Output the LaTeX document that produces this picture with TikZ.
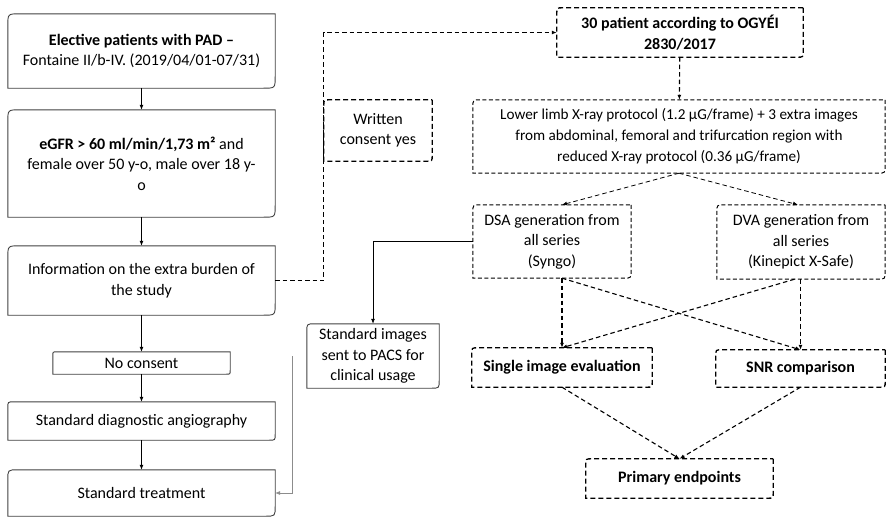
\documentclass[tikz,border=0pt]{standalone}
\usepackage{fontspec}
\setmainfont{Carlito}
\usetikzlibrary{arrows.meta}
\definecolor{boxline}{RGB}{64,64,64}

% outline with rounded top left and bottom right corners
\newcommand\cutbox[3][]{%
  \draw[#1] (#2.north east) -- ([yshift=#3pt]#2.south east)
    .. controls (#2.south east) .. ([xshift=-#3pt]#2.south east)
    -- (#2.south west) -- ([yshift=-#3pt]#2.north west)
    .. controls (#2.north west) .. ([xshift=#3pt]#2.north west) -- cycle;}

\tikzset{
  txt/.style={inner sep=0pt, align=center, font=\fontsize{16}{20.5}\selectfont},
  plainbox/.style={draw=boxline, line width=0.9pt},
  thinbox/.style={draw=black, line width=1pt, dash pattern=on 4pt off 2.5pt},
  thickbox/.style={draw=black, line width=1.3pt, dash pattern=on 5pt off 3pt},
  link/.style={-{Latex[length=5pt,width=4pt]}, line width=0.8pt},
  dlink/.style={link, line width=1.1pt, dash pattern=on 4.5pt off 3pt},
}

\begin{document}
\begin{tikzpicture}[x=1pt,y=-1pt] %% pixel coordinates, y downwards
  \useasboundingbox (0,0) rectangle (887,517);

  % left column
  \node[txt, minimum width=267pt, minimum height=74pt] (elective) at (141.5,51)
    {\textbf{Elective patients with PAD –}\\Fontaine II/b-IV. (2019/04/01-07/31)};
  \node[txt, minimum width=267pt, minimum height=107pt] (egfr) at (141.5,163.5)
    {\textbf{eGFR > 60 ml/min/1,73 m²} and\\female over 50 y-o, male over 18 y-\\o};
  \node[txt, minimum width=267pt, minimum height=69pt] (info) at (141.5,280.5)
    {Information on the extra burden of\\the study};
  \node[txt, minimum width=177pt, minimum height=22pt] (nocons) at (141.5,363)
    {No consent};
  \node[txt, minimum width=267pt, minimum height=38pt] (diag) at (141.5,421)
    {Standard diagnostic angiography};
  \node[txt, minimum width=267pt, minimum height=46pt] (treat) at (141.5,493)
    {Standard treatment};

  % right part
  \node[txt, minimum width=108pt, minimum height=61pt] (written) at (378,130.5)
    {Written\\consent yes};
  \node[txt, minimum width=246pt, minimum height=49pt] (thirty) at (680,32.5)
    {\textbf{30 patient according to OGYÉI}\\\textbf{2830/2017}};
  \node[txt, font=\fontsize{15.2}{21}\selectfont, minimum width=412pt, minimum height=73pt] (lower) at (679,136.5)
    {Lower limb X-ray protocol (1.2 µG/frame) + 3 extra images\\
     from abdominal, femoral and trifurcation region with\\
     reduced X-ray protocol (0.36 µG/frame)};
  \node[txt, minimum width=158pt, minimum height=73pt] (dsa) at (552,241.5)
    {DSA generation from\\all series\\(Syngo)};
  \node[txt, minimum width=168pt, minimum height=74pt] (dva) at (801,242)
    {DVA generation from\\all series\\(Kinepict X-Safe)};
  \node[txt, minimum width=132pt, minimum height=64pt] (pacs) at (373,356)
    {Standard images\\sent to PACS for\\clinical usage};
  \node[txt, minimum width=180pt, minimum height=39pt] (single) at (562,367.5)
    {\textbf{Single image evaluation}};
  \node[txt, minimum width=169pt, minimum height=37pt] (snr) at (800.5,368.5)
    {\textbf{SNR comparison}};
  \node[txt, minimum width=187pt, minimum height=39pt] (primary) at (679.5,478.5)
    {\textbf{Primary endpoints}};

  \foreach \n/\r in {elective/12,egfr/12,info/12,nocons/4,diag/6,treat/10,pacs/8}
    \cutbox[plainbox]{\n}{\r};
  \foreach \n in {lower,dsa,dva}
    \cutbox[thinbox]{\n}{8};
  \foreach \n in {written,thirty,single,snr,primary}
    \cutbox[thickbox]{\n}{6};

  % connectors
  \draw[link] (elective) -- (egfr);
  \draw[link] (egfr) -- (info);
  \draw[link] (info) -- (nocons);
  \draw[link] (nocons) -- (diag);
  \draw[link] (diag) -- (treat);
  \coordinate (gtop) at (292,356);
  \draw[link, draw=black!45, line width=0.6pt] (gtop) |- (treat.east);

  \draw[dlink] (info.east) -- (written.west |- info.east) |- (thirty.west);
  \draw[dlink] (thirty) -- (lower);
  \draw[dlink, line width=0.8pt] (lower.south) -- ([xshift=10pt]dsa.north);
  \draw[dlink, line width=0.8pt] (lower.south) -- ([xshift=-3pt]dva.north);
  \draw[link] (dsa.west) -| (pacs.north);

  \draw[dlink] (dsa.south -| single.north) -- (single.north);
  \draw[dlink] (dsa.south -| single.north) -- (snr.north);
  \draw[dlink] (dva.south -| snr.north) -- (snr.north);
  \draw[dlink] ([xshift=-6pt]dva.south -| snr.north) -- (single.north);
  \draw[dlink] (single.south) -- (primary.north);
  \draw[dlink] (snr.south) -- (primary.north);
\end{tikzpicture}
\end{document}
